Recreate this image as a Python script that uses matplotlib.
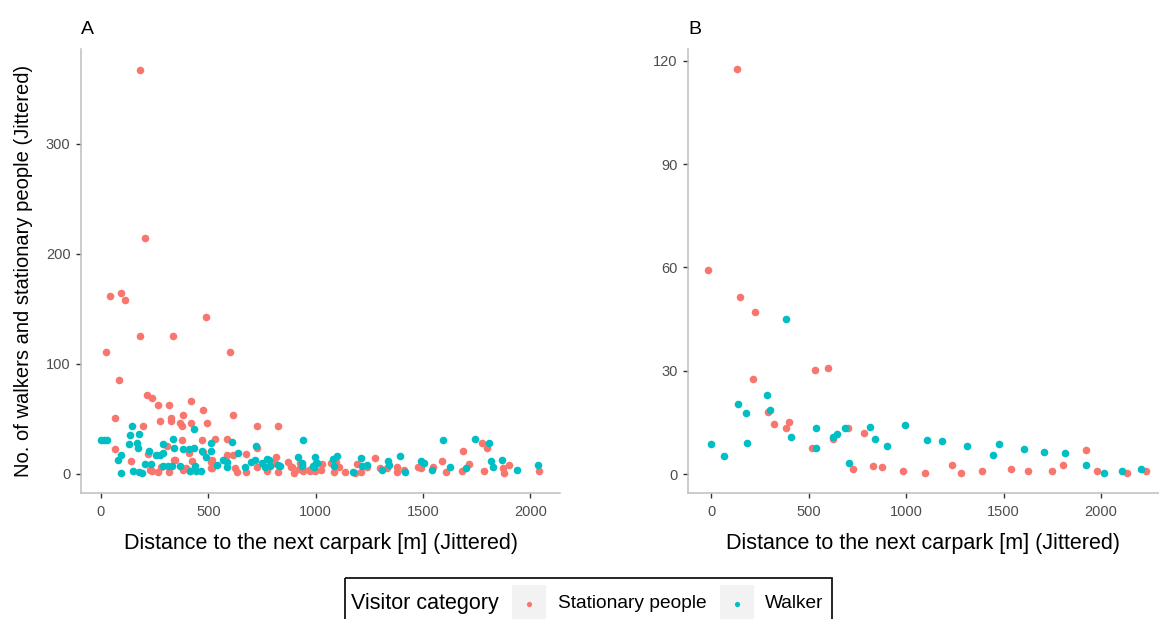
import matplotlib
matplotlib.use("Agg")
import matplotlib.pyplot as plt
from matplotlib.patches import Rectangle

plt.rcParams['font.family'] = ['Liberation Sans', 'DejaVu Sans']

RED = "#F8766D"
TEAL = "#00BFC4"

# ---------------- Panel A data ----------------
a_stat_x = [182, 204, 42, 91, 113, 489, 182, 335, 22, 600, 85, 216, 236, 267, 319, 420, 475, 616,
            273, 327, 327, 384, 370, 376, 420, 495, 65, 196, 727, 824, 378, 469, 529, 586, 725, 65,
            141, 218, 307, 341, 412, 424, 475, 517, 513, 588, 616, 674, 814, 808, 872, 890, 900,
            935, 973, 939, 228, 236, 267, 279, 319, 343, 380, 396, 414, 511, 517, 624, 632, 674,
            725, 771, 804, 824, 884, 923, 969, 997,
            1775, 1796, 1685, 1275, 1588, 1902, 1872, 1876, 2041, 1605, 1714, 1680, 1782, 1546,
            1476, 1490, 1380, 1377, 1413, 1299, 1331, 1191, 1237, 1210, 1182, 1135, 1110, 1087,
            1070, 1095, 927, 942, 973, 1023, 1029]
a_stat_y = [367, 214, 162, 164, 158, 143, 125, 125, 111, 111, 85, 72, 69, 63, 63, 66, 58, 54,
            48, 51, 48, 54, 46, 44, 46, 46, 51, 44, 44, 44, 31, 31, 32, 32, 24, 23,
            12, 18, 25, 13, 19, 12, 20, 13, 5, 17, 17, 18, 15, 10, 11, 6, 1,
            8, 3, 3, 4, 3, 1.5, 6, 1.5, 13, 4, 5, 3, 11, 5, 5, 1.5, 1.5,
            6, 3, 11, 1.5, 6, 4.5, 4, 3,
            28, 24, 21, 14.5, 12, 8, 5, 0.5, 2.5, 1.8, 9, 2.5, 2.5, 6.6,
            6.6, 5, 6.6, 1.8, 4, 5, 5, 9, 6.6, 1.8, 0.6, 1.8, 6.6, 1.8,
            9.7, 11, 9.7, 3.6, 3.6, 3.6, 9]

a_walk_x = [145, 434, 137, 176, 0, 13, 26, 131, 166, 172, 335, 287, 610, 434, 511, 511, 721, 942,
            91, 79, 91, 224, 258, 275, 291, 339, 384, 412, 470, 489, 567, 638, 719, 751, 783, 826,
            919, 935, 997, 1005, 151, 178, 190, 206, 232, 291, 311, 331, 367, 414, 438, 444, 466,
            541, 585, 587, 670, 700, 765, 775, 787, 834, 935, 989,
            1594, 1742, 1806, 1213, 1393, 1337, 1101, 1082, 1490, 1504, 1817, 1866, 1824, 1936,
            2034, 1624, 1700, 1540, 1417, 1343, 1216, 1237, 992, 1001, 1085, 1307, 1175]
a_walk_y = [44, 41, 35, 36, 31, 31, 31, 27, 28, 24, 32, 27, 29, 24, 28, 21, 25, 31,
            17.5, 13, 1, 21, 17, 17, 19, 24, 23, 23, 21, 15, 13, 19, 13, 10, 13, 8,
            15, 10, 15, 10, 3, 1.5, 1, 9, 9, 7, 7, 7, 7, 3, 7, 3, 2.5,
            8, 6, 11, 6, 11, 6, 14, 7, 7, 7, 7,
            31, 32, 28, 14.5, 16, 12, 16, 14, 12, 10, 12, 13, 6, 3.6,
            8, 6.6, 5, 3.6, 1.8, 8, 7, 8, 6.6, 9.7, 7, 3.6, 1.8]

# ---------------- Panel B data ----------------
b_stat_x = [132, -14, 147, 225, 531, 602, 216, 293, 324, 401, 386, 516, 624, 701, 730, 784,
            830, 876, 986, 1099, 1238, 1284, 1392, 1540, 1624, 1747, 1807, 1924, 1979, 2131, 2231]
b_stat_y = [117.5, 59.3, 51.5, 47.1, 30.3, 30.7, 27.7, 18.1, 14.6, 15.1, 13.4, 7.7, 10.3, 13.4,
            1.5, 12.0, 2.4, 2.0, 0.8, 0.3, 2.5, 0.3, 0.8, 1.6, 0.8, 0.8, 2.5, 6.9, 0.8, 0.3, 0.8]

b_walk_x = [386, 286, 139, 178, 300, 538, 410, 0, 185, 69, 540, 624, 648, 686, 710, 816, 840,
            900, 993, 1106, 1185, 1310, 1447, 1476, 1607, 1708, 1814, 1924, 2015, 2108, 2207]
b_walk_y = [45.0, 22.9, 20.2, 17.6, 18.6, 13.4, 10.7, 8.6, 9.0, 5.1, 7.7, 10.8, 11.6, 13.4, 3.3,
            13.7, 10.3, 8.1, 14.2, 9.9, 9.5, 8.1, 5.5, 8.6, 7.3, 6.4, 6.0, 2.5, 0.3, 0.8, 1.6]

a_xticks = [0, 500, 1000, 1500, 2000]
a_yticks = [0, 100, 200, 300]
b_xticks = [0, 500, 1000, 1500, 2000]
b_yticks = [0, 30, 60, 90, 120]

xlabel = "Distance to the next carpark [m] (Jittered)"
ylabel = "No. of walkers and stationary people (Jittered)"
legend_title = "Visitor category"
legend_labels = ["Stationary people", "Walker"]

W, H = 1159, 619
fig = plt.figure(figsize=(W / 100, H / 100), dpi=100)


def fx(px):
    return px / W


def fy(py):
    return 1 - py / H


axA = fig.add_axes([fx(81), fy(493), fx(560) - fx(81), fy(49) - fy(493)])
axB = fig.add_axes([fx(688), fy(493), fx(1159) - fx(688), fy(49) - fy(493)])

S = 30
for ax, sx, sy, wx, wy, xt, yt, xl, yl in [
    (axA, a_stat_x, a_stat_y, a_walk_x, a_walk_y, a_xticks, a_yticks, (-93, 2138), (-17.3, 386)),
    (axB, b_stat_x, b_stat_y, b_walk_x, b_walk_y, b_xticks, b_yticks, (-118, 2297), (-5.5, 123.4)),
]:
    ax.scatter(sx, sy, s=S, color=RED, linewidths=0, zorder=3)
    ax.scatter(wx, wy, s=S, color=TEAL, linewidths=0, zorder=3)
    ax.set_xlim(*xl)
    ax.set_ylim(*yl)
    ax.set_xticks(xt)
    ax.set_yticks(yt)
    for sp in ["top", "right"]:
        ax.spines[sp].set_visible(False)
    for sp in ["left", "bottom"]:
        ax.spines[sp].set_color("#BEBEBE")
        ax.spines[sp].set_linewidth(1.1)
    ax.tick_params(axis="both", length=3.5, width=1, color="#333333",
                   labelcolor="#4D4D4D", labelsize=10.5, pad=4)
    ax.tick_params(axis="x", pad=5)
    ax.set_xlabel(xlabel, fontsize=15.5, color="black", labelpad=10)

axA.set_ylabel(ylabel, fontsize=14.5, color="black", labelpad=9)

fig.text(fx(81), fy(30), "A", fontsize=14, ha="left", va="center")
fig.text(fx(688), fy(30), "B", fontsize=14, ha="left", va="center")

# ---------------- Legend ----------------
lg = fig.add_axes([0, 0, 1, 1], zorder=10)
lg.set_xlim(0, W)
lg.set_ylim(H, 0)
lg.axis("off")
lg.add_patch(Rectangle((345, 577.5), 487, 60, fill=False, edgecolor="black", linewidth=1.2))
lg.text(351, 604, legend_title, fontsize=15.5, ha="left", va="center")
key_x = [512, 720]
text_x = [558, 765]
cols = [RED, TEAL]
for kx, tx, c, lab in zip(key_x, text_x, cols, legend_labels):
    lg.add_patch(Rectangle((kx, 585), 34, 40, facecolor="#F2F2F2", edgecolor="none"))
    lg.scatter([kx + 17], [604], s=14, color=c, linewidths=0)
    lg.text(tx, 604, lab, fontsize=13.8, ha="left", va="center")

fig.savefig("out.png", dpi=100)
